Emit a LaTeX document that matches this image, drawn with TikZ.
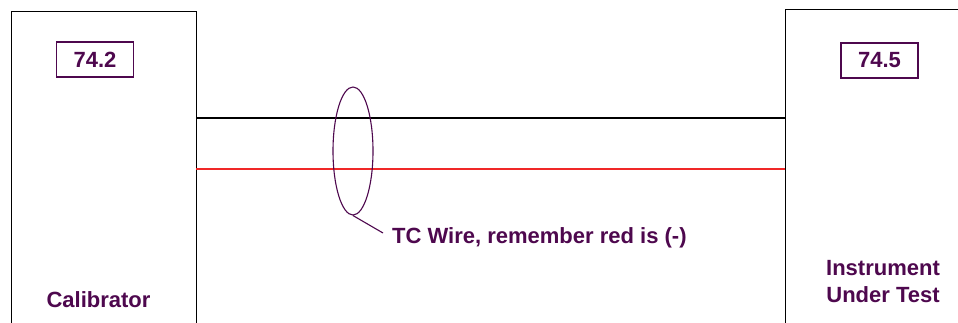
\documentclass[tikz,border=0pt]{standalone}
\usepackage{fontspec}
\setmainfont{Liberation Sans}
\usetikzlibrary{shapes.geometric}
\definecolor{plum}{RGB}{78,8,78}
\definecolor{wirered}{RGB}{240,40,40}
\tikzset{
  unitbox/.style={draw=black, line width=1.3pt, anchor=north west, inner sep=0pt},
  readout/.style={draw=plum, line width=1.2pt, minimum width=77pt, minimum height=35pt, inner sep=0pt, text=plum, font=\fontsize{22}{26}\selectfont\bfseries},
  lbl/.style={text=plum, inner sep=0pt, font=\fontsize{22}{27}\selectfont\bfseries},
  wire/.style={line width=1.3pt},
}
\begin{document}
\begin{tikzpicture}[x=1pt,y=-1pt]
\useasboundingbox (0,0) rectangle (958,322);
\clip (0,0) rectangle (958,322);
\fill[white] (0,0) rectangle (958,322);
\node[unitbox, minimum width=185pt, minimum height=340pt] (cal) at (11,11) {};
\node[unitbox, minimum width=200pt, minimum height=340pt] (iut) at (785,9) {};
\node[readout] (calval) at (95,59.5) {74.2};
\node[readout] (iutval) at (879.5,60.5) {74.5};
\node[lbl, anchor=base] (calname) at (98.5,307) {Calibrator};
\node[lbl, anchor=base] (iutname1) at (883,275) {Instrument};
\node[lbl, anchor=base] (iutname2) at (883,302) {Under Test};
\coordinate (bl) at (196,118);
\coordinate (br) at (785,118);
\coordinate (rl) at (196,169);
\coordinate (rr) at (785,169);
\draw[wire, black] (bl) -- (br);
\draw[wire, wirered] (rl) -- (rr);
\node[ellipse, draw=plum, line width=1.1pt, minimum width=40pt, minimum height=128pt, inner sep=0pt] (bundle) at (353,151) {};
\node[lbl, anchor=base west] (tcwire) at (392,243) {TC Wire, remember red is (-)};
\coordinate (lead) at (383,233);
\draw[plum, line width=1.1pt] (bundle.south) -- (lead);
\end{tikzpicture}
\end{document}
